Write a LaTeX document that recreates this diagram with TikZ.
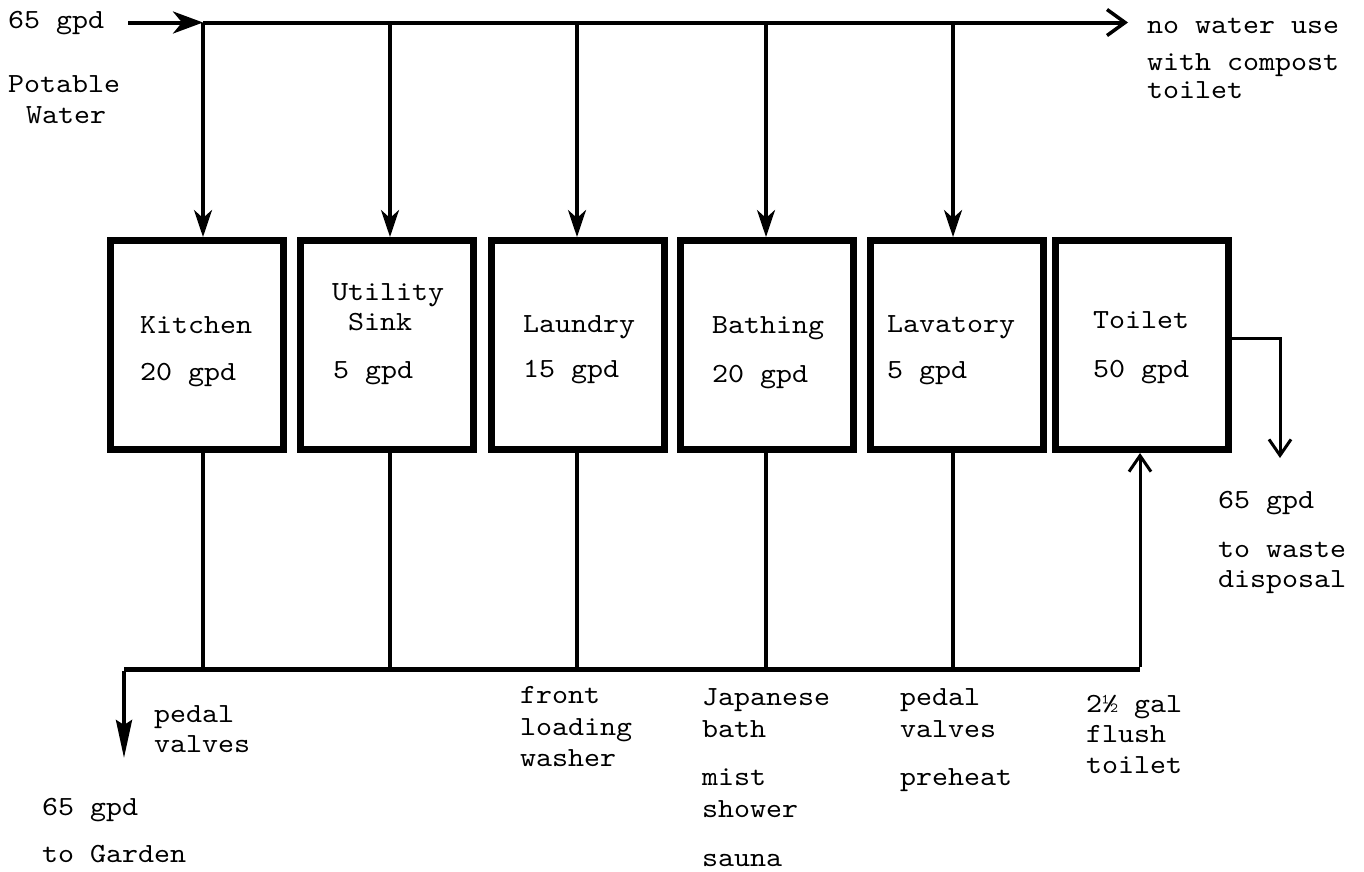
\documentclass[tikz,border=0pt]{standalone}
\usepackage{fontspec}
\setmainfont{lmmono10-regular}[Extension=.otf,FakeStretch=1.1]
\usetikzlibrary{arrows.meta}
\begin{document}
\begin{tikzpicture}[x=1pt,y=-1pt,
  txt/.style={anchor=base west,inner sep=0pt,font=\fontsize{27.7}{31.5}\selectfont},
  unit/.style={draw,line width=7pt,minimum width=173pt,minimum height=209pt,inner sep=0pt},
  feed/.style={line width=3.5pt,-{Stealth[length=27pt,width=18pt,inset=8pt]}},
  drain/.style={line width=3.5pt},
  openarrow/.style={line width=3pt,-{Straight Barb[length=16pt,width=22pt,line width=3pt]}}]
\useasboundingbox (0,0) rectangle (1364,871);

% boxes
\node[unit] (kit) at (197,345) {};
\node[unit] (uti) at (386.5,345) {};
\node[unit] (lau) at (578,345) {};
\node[unit] (bat) at (767,345) {};
\node[unit] (lav) at (956.5,345) {};
\node[unit] (toi) at (1141.5,345) {};

% coordinates
\coordinate (src) at (128,22.5);
\coordinate (t1) at (203,22.5);
\coordinate (t2) at (390,22.5);
\coordinate (t3) at (577,22.5);
\coordinate (t4) at (766,22.5);
\coordinate (t5) at (953,22.5);
\coordinate (tend) at (1128,22.5);
\coordinate (b0) at (124,669);
\coordinate (b1) at (203,669);
\coordinate (b2) at (390,669);
\coordinate (b3) at (577,669);
\coordinate (b4) at (766,669);
\coordinate (b5) at (953,669);
\coordinate (b6) at (1140,669);
\coordinate (garden) at (124,758);
\coordinate (wk) at (1280,338);
\coordinate (waste) at (1280,458);

% supply line
\draw[line width=4pt,-{Stealth[length=30pt,width=22pt,inset=9pt]}] (src) -- (t1);
\draw[line width=4pt,-{Straight Barb[length=18pt,width=26pt,line width=3.5pt]}] (t1) -- (tend);
\draw[feed] (t1) -- (kit.north -| t1);
\draw[feed] (t2) -- (uti.north -| t2);
\draw[feed] (t3) -- (lau.north -| t3);
\draw[feed] (t4) -- (bat.north -| t4);
\draw[feed] (t5) -- (lav.north -| t5);

% drain lines
\draw[drain] (kit.south -| b1) -- (b1);
\draw[drain] (uti.south -| b2) -- (b2);
\draw[drain] (lau.south -| b3) -- (b3);
\draw[drain] (bat.south -| b4) -- (b4);
\draw[drain] (lav.south -| b5) -- (b5);
\draw[line width=5pt] (b0) -- (b6);
\draw[line width=4pt,-{Stealth[length=38pt,width=16pt,inset=5pt]}] ([yshift=-2pt]b0) -- (garden);
\draw[openarrow] ([yshift=2pt]b6) -- (toi.south -| b6);
\draw[openarrow] (toi.east |- wk) -- (wk) -- (waste);

% texts
\node[txt] (in1) at (8,28) {65 gpd};
\node[txt] (in2) at (8,92) {Potable};
\node[txt] (in3) at (26,123) {Water};
\node[txt] (nw1) at (1147,33) {no water use};
\node[txt] (nw2) at (1147,70) {with compost};
\node[txt] (nw3) at (1147,98) {toilet};

\node[txt] (k1) at (140,333) {Kitchen};
\node[txt] (k2) at (140,380) {20 gpd};
\node[txt] (u1) at (332,300) {Utility};
\node[txt] (u2) at (348,330) {Sink};
\node[txt] (u3) at (333,378) {5 gpd};
\node[txt] (l1) at (523,332) {Laundry};
\node[txt] (l2) at (523,377) {15 gpd};
\node[txt] (ba1) at (712,333) {Bathing};
\node[txt] (ba2) at (712,382) {20 gpd};
\node[txt] (lv1) at (887,332) {Lavatory};
\node[txt] (lv2) at (887,378) {5 gpd};
\node[txt] (to1) at (1093,328) {Toilet};
\node[txt] (to2) at (1093,377) {50 gpd};

\node[txt] (p1) at (154,722) {pedal};
\node[txt] (p2) at (154,752) {valves};
\node[txt] (f1) at (520,703) {front};
\node[txt] (f2) at (520,735) {loading};
\node[txt] (f3) at (520,766) {washer};
\node[txt] (j1) at (702,705) {Japanese};
\node[txt] (j2) at (702,737) {bath};
\node[txt] (j3) at (702,785) {mist};
\node[txt] (j4) at (702,817) {shower};
\node[txt] (j5) at (702,866) {sauna};
\node[txt] (q1) at (900,705) {pedal};
\node[txt] (q2) at (900,737) {valves};
\node[txt] (q3) at (900,785) {preheat};
\node[txt] (g1) at (1086,712) {2½ gal};
\node[txt] (g2) at (1086,742) {flush};
\node[txt] (g3) at (1086,773) {toilet};
\node[txt] (ga1) at (42,815) {65 gpd};
\node[txt] (ga2) at (42,862) {to Garden};
\node[txt] (w1) at (1218,508) {65 gpd};
\node[txt] (w2) at (1218,557) {to waste};
\node[txt] (w3) at (1218,587) {disposal};
\end{tikzpicture}
\end{document}
